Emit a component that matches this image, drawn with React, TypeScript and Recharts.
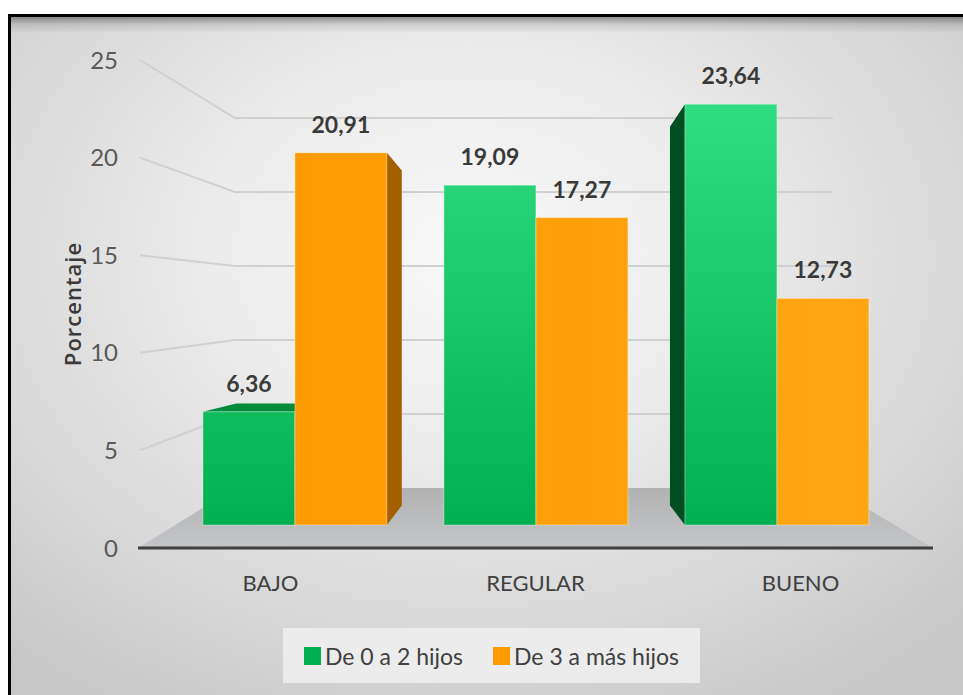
import { Bar, BarChart, CartesianGrid, LabelList, Legend, XAxis, YAxis } from 'recharts'

const levels = ['BAJO', 'REGULAR', 'BUENO']
const fewChildren = [6.36, 19.09, 23.64]
const manyChildren = [20.91, 17.27, 12.73]
const pctTicks = [0, 5, 10, 15, 20, 25]
const seriesNames = ['De 0 a 2 hijos', 'De 3 a más hijos']

const data = levels.map((level, i) => ({
  level,
  few: fewChildren[i],
  many: manyChildren[i],
}))

const CHART_W = 952
const CHART_H = 678
const MARGIN = { top: 43, right: 30, bottom: 107, left: 27 }
const Y_AXIS_W = 100
const X_AXIS_H = 40
const PLOT_LEFT = MARGIN.left + Y_AXIS_W
const PLOT_RIGHT = CHART_W - MARGIN.right
const PLOT_TOP = MARGIN.top
const PLOT_BOTTOM = CHART_H - MARGIN.bottom - X_AXIS_H

// the bars stand a little behind the front edge of the floor, on a flatter scale
const BAR_ZERO = PLOT_BOTTOM - 23
const BAR_PX = 17.8
const BAR_DOMAIN = [
  -(PLOT_BOTTOM - BAR_ZERO) / BAR_PX,
  (BAR_ZERO - PLOT_TOP) / BAR_PX,
]

// perspective: back edges move toward this point
const VP_X = (PLOT_LEFT + PLOT_RIGHT) / 2
const VP_Y = PLOT_TOP + 0.553 * (PLOT_BOTTOM - PLOT_TOP)
const DEPTH = 0.1

// back wall of the box
const BACK_TOP = PLOT_TOP + 58
const BACK_BOTTOM = PLOT_BOTTOM - 60
const BACK_LEFT_IN = 97
const BACK_RIGHT_IN = 100

const FONT = "Lato, 'Liberation Sans', sans-serif"

const palette = [
  { legend: '#00b050', grad: 'gFew', side: '#004f22', top: '#008a3c' },
  { legend: '#ff9a00', grad: 'gMany', side: '#a35f00', top: '#c77a00' },
]

const back = (px: number, py: number) => [
  px + (VP_X - px) * DEPTH,
  py + (VP_Y - py) * DEPTH,
]

const pts = (list: number[][]) => list.map((p) => p.join(',')).join(' ')

function Prism(props: any) {
  const { x, y, width, height, series } = props
  if (!height || height <= 0) return null
  const c = palette[series]
  const x0 = x
  const x1 = x + width
  const y0 = y
  const y1 = y + height
  const faces = []
  if (series === 0 && x0 > VP_X) {
    faces.push(
      <polygon
        key="side"
        points={pts([[x0, y0], back(x0, y0), back(x0, y1), [x0, y1]])}
        fill={c.side}
      />,
    )
  }
  if (series === 1 && x1 < VP_X) {
    faces.push(
      <polygon
        key="side"
        points={pts([[x1, y0], back(x1, y0), back(x1, y1), [x1, y1]])}
        fill={c.side}
      />,
    )
  }
  if (y0 > VP_Y) {
    faces.push(
      <polygon
        key="top"
        points={pts([[x0, y0], [x1, y0], back(x1, y0), back(x0, y0)])}
        fill={c.top}
      />,
    )
  }
  return (
    <g>
      {faces}
      <rect
        x={x0}
        y={y0}
        width={width}
        height={height}
        fill={`url(#${c.grad})`}
        stroke="rgba(255,255,255,0.35)"
        strokeWidth={1}
      />
    </g>
  )
}

function GridLine(props: any) {
  const { x1, x2, y1 } = props
  const backY =
    BACK_TOP + ((y1 - PLOT_TOP) * (BACK_BOTTOM - BACK_TOP)) / (PLOT_BOTTOM - PLOT_TOP)
  const bl = x1 + BACK_LEFT_IN
  const br = x2 - BACK_RIGHT_IN
  if (Math.abs(y1 - PLOT_BOTTOM) < 1) {
    return (
      <g>
        <polygon
          points={pts([[x1, y1], [x2, y1], [br, BACK_BOTTOM], [bl, BACK_BOTTOM]])}
          fill="url(#gFloor)"
        />
        <line x1={x1} y1={y1} x2={x2} y2={y1} stroke="#3f3f3f" strokeWidth={3} />
      </g>
    )
  }
  return (
    <polyline
      points={pts([[x1 + 2, y1], [bl, backY], [br, backY]])}
      fill="none"
      stroke="#d0d0d0"
      strokeWidth={2}
    />
  )
}

function ValueLabel(props: any) {
  const { x, y, width, value } = props
  return (
    <text
      x={x + width / 2}
      y={y - 20}
      textAnchor="middle"
      fontFamily={FONT}
      fontWeight="bold"
      fontSize={23}
      fill="#3a3a3a"
    >
      {Number(value).toFixed(2).replace('.', ',')}
    </text>
  )
}

function LegendBox(props: any) {
  const items = props.payload || []
  return (
    <div
      style={{
        width: 417,
        height: 55,
        background: 'rgba(240,240,240,0.85)',
        display: 'flex',
        alignItems: 'center',
        justifyContent: 'center',
        gap: 30,
        fontFamily: FONT,
        fontSize: 23,
        color: '#404040',
      }}
    >
      {items.map((item: any) => (
        <span key={item.value} style={{ display: 'flex', alignItems: 'center' }}>
          <span
            style={{
              display: 'inline-block',
              width: 17,
              height: 18,
              background: item.color,
              marginRight: 4,
            }}
          />
          {item.value}
        </span>
      ))}
    </div>
  )
}

function AxisTitle(props: any) {
  const { viewBox } = props
  const cx = 61
  const cy = viewBox.y + viewBox.height / 2
  return (
    <text
      x={cx}
      y={cy}
      transform={`rotate(-90, ${cx}, ${cy})`}
      textAnchor="middle"
      dominantBaseline="central"
      fontFamily="'Open Sans', sans-serif"
      fontWeight={600}
      fontSize={22}
      letterSpacing={1}
      fill="#3a3a3a"
    >
      Porcentaje
    </text>
  )
}

export default function App() {
  return (
    <div
      style={{
        position: 'absolute',
        left: 8,
        top: 14,
        width: 955,
        height: 681,
        boxSizing: 'border-box',
        borderTop: '3px solid #000',
        borderLeft: '3px solid #000',
        background:
          'linear-gradient(to bottom, rgba(0,0,0,0.38) 0px, rgba(0,0,0,0.12) 7px, rgba(0,0,0,0) 16px), ' +
          'radial-gradient(ellipse 75% 80% at 48% 35%, #f9f9f9 0%, #ececec 35%, #d8d8d8 70%, #c6c6c6 100%)',
      }}
    >
      <BarChart
        width={CHART_W}
        height={CHART_H}
        data={data}
        margin={MARGIN}
        barCategoryGap="12%"
        barGap={0}
      >
        <defs>
          <linearGradient id="gFew" gradientUnits="userSpaceOnUse" x1={0} y1={PLOT_BOTTOM} x2={0} y2={PLOT_TOP + 40}>
            <stop offset="0%" stopColor="#00ad4e" />
            <stop offset="100%" stopColor="#30dd80" />
          </linearGradient>
          <linearGradient id="gMany" gradientUnits="userSpaceOnUse" x1={PLOT_LEFT} y1={0} x2={PLOT_RIGHT} y2={0}>
            <stop offset="0%" stopColor="#ff9700" />
            <stop offset="100%" stopColor="#ffa814" />
          </linearGradient>
          <linearGradient id="gFloor" x1="0" y1="0" x2="0" y2="1">
            <stop offset="0%" stopColor="#b2b2b2" />
            <stop offset="100%" stopColor="#c3c5c8" />
          </linearGradient>
        </defs>
        <CartesianGrid
          xAxisId="cat"
          yAxisId="pct"
          vertical={false}
          horizontal={(p: any) => <GridLine key={p.key} {...p} />}
        />
        <XAxis
          xAxisId="cat"
          dataKey="level"
          axisLine={false}
          tickLine={false}
          tickSize={0}
          tickMargin={27}
          height={X_AXIS_H}
          interval={0}
          tick={{ fontSize: 22, fill: '#404040', fontFamily: FONT }}
        />
        <XAxis xAxisId="bars" dataKey="level" hide height={0} padding={{ left: 36, right: 36 }} />
        <YAxis
          yAxisId="pct"
          type="number"
          dataKey="many"
          domain={[0, 25]}
          allowDataOverflow
          ticks={pctTicks}
          interval={0}
          axisLine={false}
          tickLine={false}
          tickSize={0}
          tickMargin={20}
          width={Y_AXIS_W}
          tick={{ fontSize: 24, fill: '#595959', fontFamily: FONT }}
          label={<AxisTitle />}
        />
        <YAxis yAxisId="bars" type="number" hide width={0} domain={BAR_DOMAIN} allowDataOverflow />
        <Legend
          layout="horizontal"
          verticalAlign="middle"
          align="center"
          content={<LegendBox />}
          wrapperStyle={{ position: 'absolute', left: 272, top: 611, width: 417, height: 55 }}
        />
        <Bar
          xAxisId="bars"
          yAxisId="bars"
          dataKey="few"
          name={seriesNames[0]}
          fill={palette[0].legend}
          isAnimationActive={false}
          shape={(p: any) => <Prism {...p} series={0} />}
        >
          <LabelList dataKey="few" content={<ValueLabel />} />
        </Bar>
        <Bar
          xAxisId="bars"
          yAxisId="bars"
          dataKey="many"
          name={seriesNames[1]}
          fill={palette[1].legend}
          isAnimationActive={false}
          shape={(p: any) => <Prism {...p} series={1} />}
        >
          <LabelList dataKey="many" content={<ValueLabel />} />
        </Bar>
      </BarChart>
    </div>
  )
}
